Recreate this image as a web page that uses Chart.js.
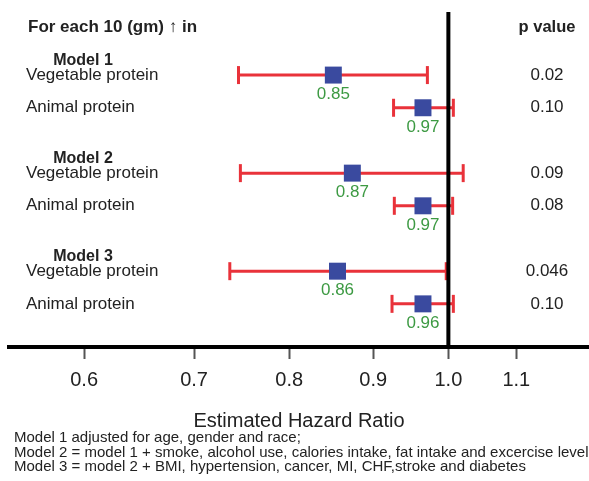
<!DOCTYPE html>
<html>
<head>
<meta charset="utf-8">
<script src="https://cdn.jsdelivr.net/npm/chart.js@4"></script>
<style>
  html, body { margin: 0; padding: 0; background: #fff; overflow: hidden; }
  canvas { display: block; }
</style>
</head>
<body>
<canvas id="forest" width="589" height="481"></canvas>
<script>
// The data block
const modelNames = ['Model 1', 'Model 2', 'Model 3'];
const proteinNames = ['Vegetable protein', 'Animal protein'];
const hazardRatio = [0.851, 0.965, 0.874, 0.965, 0.856, 0.965];
const ciLower = [0.745, 0.926, 0.747, 0.927, 0.736, 0.924];
const ciUpper = [0.971, 1.007, 1.021, 1.006, 0.997, 1.007];
const hrLabels = ['0.85', '0.97', '0.87', '0.97', '0.86', '0.96'];
const pValues = ['0.02', '0.10', '0.09', '0.08', '0.046', '0.10'];
const tickValues = [0.6, 0.7, 0.8, 0.9, 1.0, 1.1];
const footnotes = [
  'Model 1 adjusted for age, gender and race;',
  'Model 2 = model 1 + smoke, alcohol use, calories intake, fat intake and excercise level',
  'Model 3 = model 2 + BMI, hypertension, cancer, MI, CHF,stroke and diabetes'
];

// row index of each estimate: 3 rows per model block
const rowOf = (i) => 3 * Math.floor(i / 2) + 2 + (i % 2);
const yMin = 0.07, yMax = 10.32;

const RED = '#e9323a';
const BLUE = '#3a4a9f';
const GREEN = '#3d9a43';
const TEXT = '#222';

Chart.defaults.font.family = '"Liberation Sans", Arial, sans-serif';
Chart.defaults.color = TEXT;

// CI whiskers, one line per row
const ciSets = hazardRatio.map((hr, i) => ({
  type: 'line',
  data: [{x: ciLower[i], y: rowOf(i)}, {x: ciUpper[i], y: rowOf(i)}],
  borderColor: RED,
  borderWidth: 3,
  pointRadius: 0,
  order: 3
}));

const capSet = {
  type: 'scatter',
  data: hazardRatio.flatMap((hr, i) => [{x: ciLower[i], y: rowOf(i)}, {x: ciUpper[i], y: rowOf(i)}]),
  pointStyle: 'line',
  rotation: 90,
  pointRadius: 9,
  borderColor: RED,
  borderWidth: 3,
  order: 2
};

const refLine = {
  type: 'line',
  data: [{x: 1, y: yMin}, {x: 1, y: yMax}],
  borderColor: '#000',
  borderWidth: 4,
  pointRadius: 0,
  order: 1
};

const hrSet = {
  type: 'scatter',
  data: hazardRatio.map((hr, i) => ({x: hr, y: rowOf(i)})),
  pointStyle: 'rect',
  pointRadius: 12,
  backgroundColor: BLUE,
  borderColor: BLUE,
  borderWidth: 0,
  order: 0
};

// text labels drawn over the plot
const annotate = {
  id: 'annotate',
  afterDatasetsDraw(chart) {
    const {ctx, scales: {x, y}} = chart;
    ctx.save();
    ctx.textBaseline = 'middle';

    ctx.fillStyle = TEXT;
    ctx.font = 'bold 17px "Liberation Sans", Arial, sans-serif';
    ctx.textAlign = 'left';
    ctx.fillText('For each 10 (gm) \u2191 in', 28, y.getPixelForValue(0.53));
    ctx.font = 'bold 16.5px "Liberation Sans", Arial, sans-serif';
    ctx.textAlign = 'center';
    ctx.fillText('p value', 547, y.getPixelForValue(0.53));

    modelNames.forEach((m, k) => {
      ctx.font = 'bold 16px "Liberation Sans", Arial, sans-serif';
      ctx.textAlign = 'center';
      ctx.fillStyle = TEXT;
      ctx.fillText(m, 83, y.getPixelForValue(3 * k + 1.55));
    });

    hazardRatio.forEach((hr, i) => {
      const py = y.getPixelForValue(rowOf(i));
      ctx.font = '17px "Liberation Sans", Arial, sans-serif';
      ctx.fillStyle = TEXT;
      ctx.textAlign = 'left';
      ctx.fillText(proteinNames[i % 2], 26, py);
      ctx.textAlign = 'center';
      ctx.fillText(pValues[i], 547, py);
      ctx.fillStyle = GREEN;
      ctx.fillText(hrLabels[i], x.getPixelForValue(hr), y.getPixelForValue(rowOf(i) + 0.6));
    });

    ctx.fillStyle = TEXT;
    ctx.font = '15px "Liberation Sans", Arial, sans-serif';
    ctx.textAlign = 'left';
    footnotes.forEach((t, k) => ctx.fillText(t, 14, 438 + k * 14.6));
    ctx.restore();
  }
};

const config = {
  data: { datasets: [...ciSets, capSet, refLine, hrSet] },
  options: {
    responsive: false,
    animation: false,
    layout: { autoPadding: false, padding: { left: 9, right: 0, top: 12, bottom: 48 } },
    plugins: {
      legend: { display: false },
      tooltip: { enabled: false }
    },
    scales: {
      x: {
        type: 'logarithmic',
        position: 'bottom',
        min: 0.541,
        max: 1.218,
        afterBuildTicks: (axis) => { axis.ticks = tickValues.map(v => ({value: v})); },
        afterFit: (axis) => { axis.paddingLeft = 0; axis.paddingRight = 0; },
        ticks: {
          callback: (v) => Number(v).toFixed(1),
          font: { size: 20 },
          color: TEXT,
          padding: 9,
          maxRotation: 0,
          autoSkip: false
        },
        grid: {
          drawOnChartArea: false,
          drawTicks: true,
          tickLength: 12,
          tickWidth: 2,
          tickColor: '#555'
        },
        border: { display: true, color: '#000', width: 4 },
        title: {
          display: true,
          text: 'Estimated Hazard Ratio',
          font: { size: 20 },
          color: TEXT,
          padding: { top: 8, bottom: 0 }
        }
      },
      y: {
        type: 'linear',
        display: false,
        reverse: true,
        min: yMin,
        max: yMax
      }
    }
  },
  plugins: [annotate]
};

const forest = new Chart(document.getElementById('forest'), config);
</script>
</body>
</html>
